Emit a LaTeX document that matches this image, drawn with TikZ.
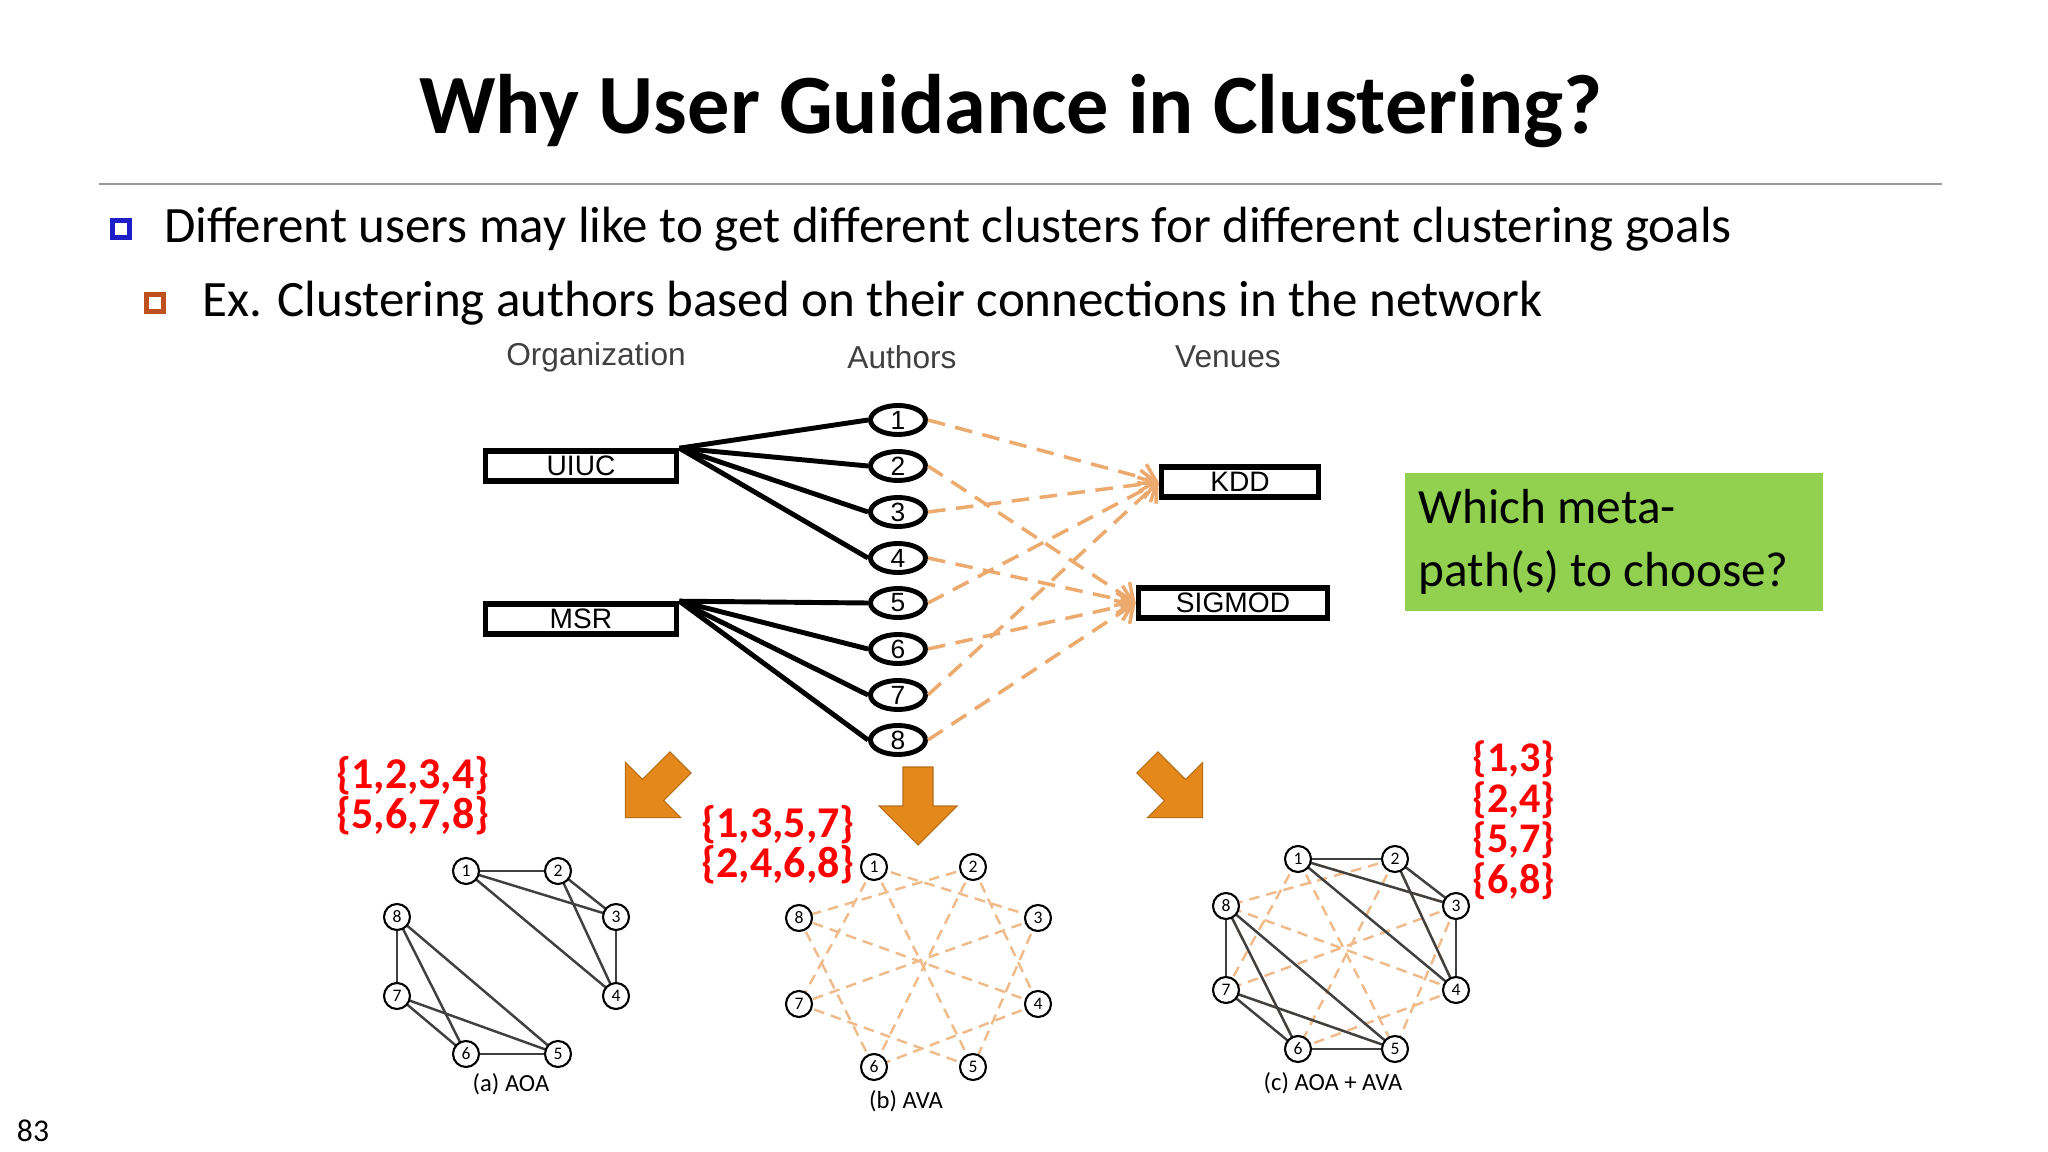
\documentclass[tikz,border=0pt]{standalone}
\usepackage{fontspec}
\setmainfont{Carlito}
\newfontfamily\arialfont{Liberation Sans}
\usetikzlibrary{arrows.meta, shapes.geometric}
\definecolor{venue}{RGB}{236,170,110}
\definecolor{blockarrow}{RGB}{228,136,28}
\definecolor{metagreen}{RGB}{146,208,80}
\definecolor{bulletblue}{RGB}{30,30,200}
\definecolor{bulletbrown}{RGB}{190,80,30}

\tikzset{
    author/.style = {draw, ellipse, line width = 1.4pt, minimum width = 0.55cm,
        minimum height = 0.29cm, inner sep = 0pt, font = \arialfont\fontsize{7.5}{8}\selectfont},
    place/.style = {draw, rectangle, line width = 1.6pt, minimum height = 0.3cm,
        inner sep = 0pt, font = \arialfont\fontsize{8}{8}\selectfont},
    vertex/.style = {draw, circle, line width = 0.6pt, minimum size = 0.26cm,
        inner sep = 0pt, fill = white, font = \fontsize{5}{5}\selectfont},
    aoa/.style = {line width = 0.7pt, black!75},
    ava/.style = {line width = 0.7pt, venue!80, dashed, dash pattern = on 3pt off 2pt},
    venueedge/.style = {line width = 1pt, venue, dash pattern = on 5pt off 3pt, -{Straight Barb[length=4pt]}},
    sets/.style = {text = red, font = \bfseries\fontsize{12.5}{11.4}\selectfont, align = center},
    head/.style = {font = \arialfont\fontsize{9}{10}\selectfont, black!75},
    bigarrow/.style = {fill = blockarrow, draw = blockarrow!80!black, line width = 0.3pt}
}
\newcommand{\blockarrow}{(-15,-39) -- (15,-39) -- (15,0) -- (39,0) -- (0,39) -- (-39,0) -- (-15,0) -- cycle}

\begin{document}
\begin{tikzpicture}[x = 0.01cm, y = -0.01cm]
    \useasboundingbox (0,0) rectangle (2048,1152);
    % title and bullets
    \draw (1011,111) node(T) [font = \bfseries\fontsize{24}{25}\selectfont] {Why User Guidance in Clustering?};
    \draw [black!40, line width = 0.6pt] (99,184) -- (1942,184);
    \draw (121,229) node(B1) [draw = bulletblue, fill = white, line width = 1.5pt,
        minimum size = 0.17cm, inner sep = 0pt] {};
    \draw (152,229) node(L1) [anchor = west, font = \fontsize{14.5}{15}\selectfont]
        {Different users may like to get different clusters for different clustering goals};
    \draw (155,303) node(B2) [draw = bulletbrown, fill = white, line width = 1.5pt,
        minimum size = 0.17cm, inner sep = 0pt] {};
    \draw (190,303) node(L2) [anchor = west, font = \fontsize{14.5}{15}\selectfont]
        {Ex. Clustering authors based on their connections in the network};

    % network
    \draw (596,357) node(HO) [head] {Organization};
    \draw (902,357) node(HA) [head] {Authors};
    \draw (1228,357) node(HV) [head] {Venues};
    \draw (581,466) node(UIUC) [place, minimum width = 1.91cm] {UIUC};
    \draw (581,619) node(MSR) [place, minimum width = 1.91cm] {MSR};
    \draw (1240,482) node(KDD) [place, minimum width = 1.57cm] {KDD};
    \draw (1233,603) node(SIGMOD) [place, minimum width = 1.89cm] {SIGMOD};
    \foreach \i/\y in {1/420,2/466,3/512,4/558,5/603,6/649,7/695,8/740}
        \draw (898,\y) node(a\i) [author] {\i};
    \foreach \i in {1,2,3,4}
        \draw [line width = 1.4pt] (UIUC.north east) -- (a\i.west);
    \foreach \i in {5,6,7,8}
        \draw [line width = 1.4pt] (MSR.north east) -- (a\i.west);
    \foreach \i in {1,3,5,7}
        \draw [venueedge] (a\i.east) -- (KDD.west);
    \foreach \i in {2,4,6,8}
        \draw [venueedge] (a\i.east) -- (SIGMOD.west);

    \draw (1614,542) node(Q) [fill = metagreen, minimum width = 4.18cm, minimum height = 1.38cm,
        text width = 3.9cm, align = flush left, font = \fontsize{14}{18}\selectfont]
        {Which meta-\\path(s) to choose?};

    % red sets
    \draw (413,796) node(S1) [sets] {\{1,2,3,4\}\\\{5,6,7,8\}};
    \draw (778,845) node(S2) [sets] {\{1,3,5,7\}\\\{2,4,6,8\}};
    \draw (1514,820) node(S3) [sets, font = \bfseries\fontsize{12}{10}\selectfont]
        {\{1,3\}\\\{2,4\}\\\{5,7\}\\\{6,8\}};

    % block arrows
    \fill [bigarrow, shift = {(653,790)}, rotate = -45] \blockarrow;
    \fill [bigarrow, shift = {(918,806)}] \blockarrow;
    \fill [bigarrow, shift = {(1175,790)}, rotate = 45] \blockarrow;

    % (a) AOA
    \foreach \i/\x/\y in {1/466/871,2/558/871,3/616/917,4/616/996,5/558/1054,6/466/1054,7/397/996,8/397/917}
        \coordinate (pa\i) at (\x,\y);
    \foreach \u/\v in {1/2,1/3,1/4,2/3,2/4,3/4,5/6,5/7,5/8,6/7,6/8,7/8}
        \draw [aoa] (pa\u) -- (pa\v);
    \foreach \i in {1,...,8}
        \draw (pa\i) node(ga\i) [vertex] {\i};
    \draw (511,1084) node(LA) [font = \fontsize{7}{7}\selectfont] {(a) AOA};

    % (b) AVA
    \foreach \i/\x/\y in {1/874/867,2/973/867,3/1038/918,4/1038/1004,5/973/1067,6/874/1067,7/799/1004,8/799/918}
        \coordinate (pb\i) at (\x,\y);
    \foreach \u/\v in {1/3,1/5,1/7,3/5,3/7,5/7,2/4,2/6,2/8,4/6,4/8,6/8}
        \draw [ava] (pb\u) -- (pb\v);
    \foreach \i in {1,...,8}
        \draw (pb\i) node(gb\i) [vertex] {\i};
    \draw (906,1101) node(LB) [font = \fontsize{7}{7}\selectfont] {(b) AVA};

    % (c) AOA + AVA
    \foreach \i/\x/\y in {1/1298/859,2/1395/859,3/1456/906,4/1456/990,5/1395/1049,6/1298/1049,7/1226/990,8/1226/906}
        \coordinate (pc\i) at (\x,\y);
    \foreach \u/\v in {1/3,1/5,1/7,3/5,3/7,5/7,2/4,2/6,2/8,4/6,4/8,6/8}
        \draw [ava] (pc\u) -- (pc\v);
    \foreach \u/\v in {1/2,1/3,1/4,2/3,2/4,3/4,5/6,5/7,5/8,6/7,6/8,7/8}
        \draw [aoa] (pc\u) -- (pc\v);
    \foreach \i in {1,...,8}
        \draw (pc\i) node(gc\i) [vertex] {\i};
    \draw (1333,1083) node(LC) [font = \fontsize{7}{7}\selectfont] {(c) AOA + AVA};

    \draw (33,1131) node(P) [font = \fontsize{9}{9}\selectfont] {83};
\end{tikzpicture}
\end{document}
